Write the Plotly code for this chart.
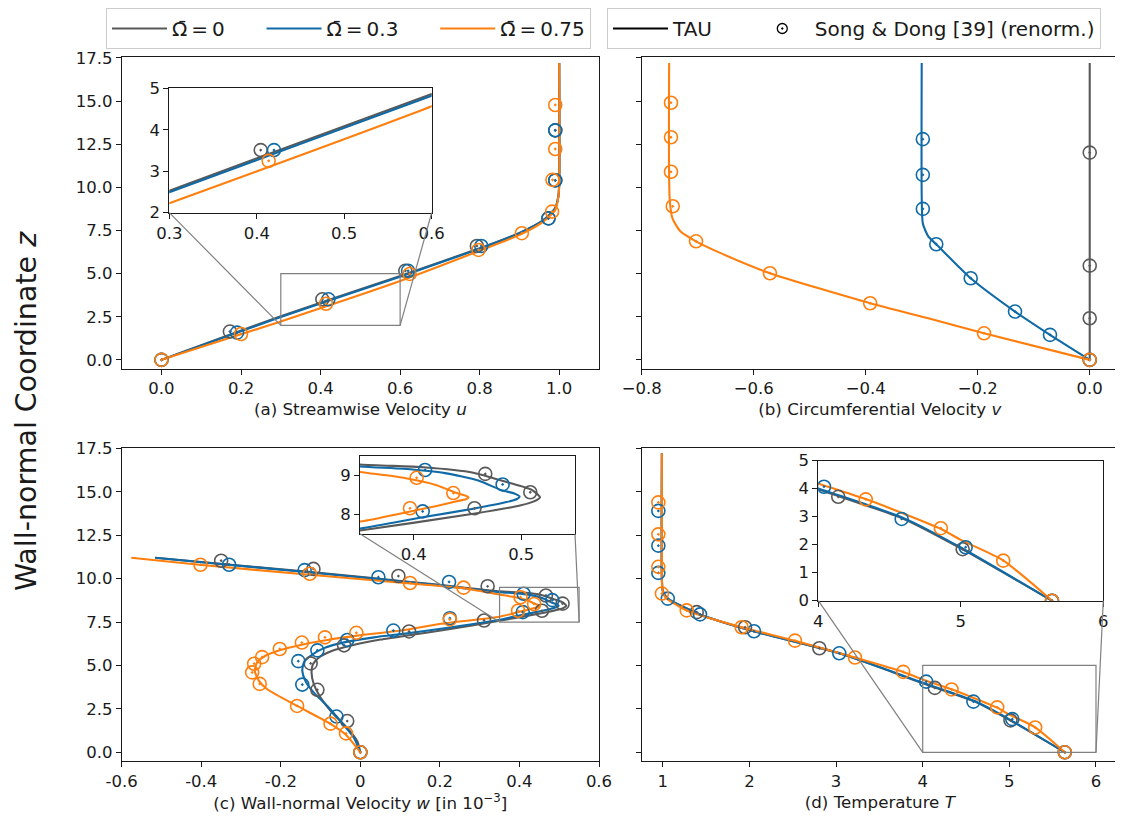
import plotly.graph_objects as go

# The page body has an 8px default margin; the figure is sized so it fills the 1123x825 window.
OFF = 8
W, H = 1123 - OFF, 825 - OFF
GRAY = "#595959"
BLUE = "#0f6aa6"
ORANGE = "#ff7f0e"
FONT = "DejaVu Sans"
NB = "\u00a0"
TS = "\u2009"

SERIES = ["Ω̄" + TS + "=" + TS + "0", "Ω̄" + TS + "=" + TS + "0.3", "Ω̄" + TS + "=" + TS + "0.75"]
COLORS = [GRAY, BLUE, ORANGE]

# ---------------- (a) streamwise velocity u ----------------
a_line_gray_u = [0, 0.3, 0.6, 0.8, 0.9, 0.96, 0.99, 0.998, 1.0, 1.0]
a_line_gray_z = [0, 2.53, 4.86, 6.47, 7.36, 8.1, 8.8, 9.5, 10.2, 17.2]
a_line_blue_u = [0, 0.3, 0.6, 0.8, 0.9, 0.96, 0.99, 0.998, 1.0, 1.0]
a_line_blue_z = [0, 2.49, 4.82, 6.44, 7.34, 8.08, 8.78, 9.5, 10.2, 17.2]
a_line_orange_u = [0, 0.3, 0.6, 0.797, 0.906, 0.96, 0.99, 0.998, 1.0, 1.0]
a_line_orange_z = [0, 2.23, 4.57, 6.3, 7.3, 8.01, 8.69, 9.46, 10.2, 17.2]

a_mark_gray_u = [0, 0.172, 0.4045, 0.613, 0.793, 0.973, 0.99, 0.99]
a_mark_gray_z = [0, 1.64, 3.51, 5.16, 6.6, 8.2, 10.4, 13.3]
a_mark_blue_u = [0, 0.19, 0.4197, 0.62, 0.804, 0.973, 0.99, 0.99]
a_mark_blue_z = [0, 1.58, 3.51, 5.16, 6.6, 8.2, 10.4, 13.3]
a_mark_orange_u = [0, 0.2, 0.4136, 0.624, 0.797, 0.906, 0.982, 0.983, 0.99, 0.99]
a_mark_orange_z = [0, 1.5, 3.25, 4.98, 6.37, 7.34, 8.59, 10.43, 12.22, 14.77]

# ---------------- (b) circumferential velocity v ----------------
b_line_gray_v = [0, 0]
b_line_gray_z = [0, 17.2]
b_line_blue_v = [0, -0.0709, -0.1334, -0.2125, -0.274, -0.288, -0.298, -0.3, -0.3]
b_line_blue_z = [0, 1.45, 2.8, 4.73, 6.7, 7.14, 7.9, 9.5, 17.2]
b_line_orange_v = [0, -0.1887, -0.285, -0.392, -0.571, -0.66, -0.703, -0.731, -0.745, -0.75, -0.751]
b_line_orange_z = [0, 1.54, 2.38, 3.28, 5.02, 6.2, 6.87, 7.45, 8.2, 9.3, 17.2]

b_mark_gray_v = [0, 0, 0, 0]
b_mark_gray_z = [0, 2.41, 5.46, 12.01]
b_mark_blue_v = [0, -0.0709, -0.1334, -0.2125, -0.274, -0.298, -0.298, -0.298]
b_mark_blue_z = [0, 1.45, 2.8, 4.73, 6.7, 8.75, 10.72, 12.79]
b_mark_orange_v = [0, -0.1887, -0.392, -0.571, -0.703, -0.7446, -0.7477, -0.7477, -0.7477]
b_mark_orange_z = [0, 1.54, 3.28, 5.02, 6.87, 8.9, 10.9, 12.9, 14.9]

# ---------------- (c) wall-normal velocity w ----------------
c_line_gray_w = [0, -0.0076, -0.033, -0.0705, -0.1, -0.117, -0.1227, -0.119, -0.104, -0.0705,
                 -0.0244, 0.051, 0.135, 0.2023, 0.35, 0.4555, 0.4988, 0.5112, 0.5174, 0.5098,
                 0.4864, 0.4555, 0.409, 0.35, 0.186, 0.018, -0.15, -0.318, -0.516]
c_line_gray_z = [0, 0.64, 1.41, 2.28, 3.15, 3.92, 4.6, 5.08, 5.46, 5.85,
                 6.14, 6.49, 6.78, 7.01, 7.58, 8.01, 8.22, 8.32, 8.43, 8.62,
                 8.82, 9.06, 9.2, 9.27, 9.67, 10.06, 10.43, 10.78, 11.2]
c_line_blue_w = [0, -0.016, -0.05, -0.083, -0.117, -0.138, -0.146, -0.142, -0.125, -0.0917,
                 -0.041, 0.0343, 0.118, 0.2023, 0.35, 0.4083, 0.4555, 0.4865, 0.4955, 0.4985, 0.4935,
                 0.4818, 0.46, 0.429, 0.3903, 0.35, 0.186, 0.018, -0.15, -0.318, -0.516]
c_line_blue_z = [0, 0.83, 1.8, 2.67, 3.44, 4.11, 4.69, 5.17, 5.56, 6.0,
                 6.33, 6.62, 6.85, 7.11, 7.63, 7.92, 8.14, 8.31, 8.38, 8.45, 8.53,
                 8.61, 8.86, 9.05, 9.16, 9.22, 9.64, 10.04, 10.41, 10.77, 11.2]
c_line_orange_w = [0, -0.037, -0.075, -0.159, -0.234, -0.255, -0.2655, -0.2596, -0.2386, -0.2008,
                   -0.1504, -0.0831, -0.0076, 0.1015, 0.2023, 0.35, 0.3903, 0.4213, 0.44, 0.4485, 0.451,
                   0.4475, 0.44, 0.4213, 0.3903, 0.35, 0.26, 0.125, -0.127, -0.405, -0.576]
c_line_orange_z = [0, 1.02, 1.64, 2.67, 3.63, 4.11, 4.69, 5.17, 5.56, 5.89,
                   6.18, 6.47, 6.72, 7.01, 7.4, 7.81, 8.03, 8.21, 8.33, 8.38, 8.43,
                   8.48, 8.54, 8.74, 8.93, 9.08, 9.45, 9.72, 10.22, 10.8, 11.2]

c_mark_gray_w = [0, -0.033, -0.108, -0.125, -0.041, 0.1225, 0.311, 0.4565, 0.5084, 0.4665,
                 0.32, 0.0957, -0.118, -0.35]
c_mark_gray_z = [0, 1.8, 3.6, 5.12, 6.16, 6.96, 7.59, 8.15, 8.56, 9.03,
                 9.56, 10.15, 10.56, 11.03]
c_mark_blue_w = [0, -0.06, -0.146, -0.156, -0.108, -0.033, 0.083, 0.225, 0.4083, 0.4827,
                 0.4105, 0.223, 0.0453, -0.14, -0.33]
c_mark_blue_z = [0, 2.06, 3.9, 5.25, 5.87, 6.47, 7.01, 7.72, 8.07, 8.76,
                 9.13, 9.81, 10.08, 10.49, 10.8]
c_mark_orange_w = [0, -0.036, -0.075, -0.159, -0.253, -0.272, -0.267, -0.247, -0.2025, -0.147,
                   -0.089, -0.01, 0.225, 0.3965, 0.4368, 0.4027, 0.2595, 0.125, -0.127, -0.402]
c_mark_orange_z = [0, 1.09, 1.65, 2.67, 3.94, 4.6, 5.1, 5.48, 5.95, 6.32,
                   6.62, 6.88, 7.65, 8.15, 8.54, 8.93, 9.48, 9.75, 10.28, 10.8]

# ---------------- (d) temperature T ----------------
d_line_gray_T = [0.99, 0.99, 1.0, 1.058, 1.43, 2.05, 3.04, 4.0, 4.6, 5.0, 5.64]
d_line_gray_z = [17.2, 10.0, 9.3, 8.85, 7.94, 6.97, 5.7, 3.98, 2.92, 1.87, 0]
d_line_blue_T = [0.99, 0.99, 1.0, 1.058, 1.43, 2.05, 3.04, 4.0, 4.6, 5.0, 5.64]
d_line_blue_z = [17.2, 10.0, 9.3, 8.85, 7.94, 6.97, 5.7, 4.01, 2.95, 1.9, 0]
d_line_orange_T = [0.99, 0.99, 0.995, 1.027, 1.277, 1.91, 2.526, 3.218, 3.775, 4.0, 4.333, 4.859, 5.0, 5.294, 5.64]
d_line_orange_z = [17.2, 10.0, 9.4, 8.94, 8.17, 7.2, 6.43, 5.46, 4.63, 4.19, 3.63, 2.57, 2.17, 1.45, 0]

d_mark_gray_T = [1.392, 1.95, 2.807, 4.14, 5.013, 5.64]
d_mark_gray_z = [8.07, 7.2, 5.99, 3.71, 1.84, 0]
d_mark_blue_T = [0.949, 0.949, 0.949, 1.058, 1.43, 2.053, 3.037, 4.04, 4.585, 5.034, 5.64]
d_mark_blue_z = [13.9, 11.9, 10.33, 8.85, 7.94, 6.97, 5.7, 4.07, 2.92, 1.91, 0]
d_mark_orange_T = [0.949, 0.949, 0.949, 0.99, 1.277, 1.91, 2.526, 3.218, 3.775, 4.333, 4.86, 5.298, 5.64]
d_mark_orange_z = [14.39, 12.55, 10.68, 9.14, 8.17, 7.2, 6.43, 5.46, 4.63, 3.62, 2.59, 1.43, 0]

# ---------------- tick labels ----------------
y_tickvals = [0, 2.5, 5, 7.5, 10, 12.5, 15, 17.5]
a_tickvals = [0, 0.2, 0.4, 0.6, 0.8, 1.0]
b_tickvals = [-0.8, -0.6, -0.4, -0.2, 0.0]
b_ticktext = ["−0.8", "−0.6", "−0.4", "−0.2", "0.0"]
c_tickvals = [-0.6, -0.4, -0.2, 0, 0.2, 0.4, 0.6]
c_ticktext = ["-0.6", "-0.4", "-0.2", "0", "0.2", "0.4", "0.6"]
d_tickvals = [1, 2, 3, 4, 5, 6]

# ---------------- layout geometry (window pixels) ----------------
def xd(a, b):
    return [(a - OFF) / W, (b - OFF) / W]

def yd(top, bottom):
    return [1 - (bottom - OFF) / H, 1 - (top - OFF) / H]

X_LEFT = xd(121.7, 599)
X_RIGHT = xd(641.7, 1118)
Y_TOP = yd(57, 368.5)
Y_BOT = yd(447.5, 761)
YR = [-0.5, 17.55]
RANGES = {
    "a": [-0.1, 1.1], "b": [-0.8, 0.0505], "c": [-0.6, 0.6], "d": [0.757, 6.254],
}
INSETS = {
    "a": (xd(169.3, 431.7), yd(88.3, 212.7), [0.3, 0.6], [2, 5], (X_LEFT, Y_TOP, RANGES["a"])),
    "c": (xd(360, 575), yd(455.5, 533.7), [0.35, 0.55], [7.5, 9.5], (X_LEFT, Y_BOT, RANGES["c"])),
    "d": (xd(818.3, 1103.3), yd(460.7, 600.7), [4, 6], [0, 5], (X_RIGHT, Y_BOT, RANGES["d"])),
}

fig = go.Figure()

def add_lines(xs_list, zs_list, xa, ya):
    for xs, zs, col in zip(xs_list, zs_list, COLORS):
        fig.add_trace(go.Scatter(x=xs, y=zs, mode="lines", xaxis=xa, yaxis=ya,
                                 line=dict(color=col, width=2.1, shape="spline", smoothing=0.6),
                                 showlegend=False, hoverinfo="skip"))

def add_marks(xs_list, zs_list, xa, ya):
    for xs, zs, col in zip(xs_list, zs_list, COLORS):
        fig.add_trace(go.Scatter(x=xs, y=zs, mode="markers", xaxis=xa, yaxis=ya,
                                 marker=dict(symbol="circle-open-dot", size=13, color=col,
                                             line=dict(width=1.6, color=col)),
                                 showlegend=False, hoverinfo="skip"))

panels = {
    "a": ([a_line_gray_u, a_line_blue_u, a_line_orange_u], [a_line_gray_z, a_line_blue_z, a_line_orange_z],
          [a_mark_gray_u, a_mark_blue_u, a_mark_orange_u], [a_mark_gray_z, a_mark_blue_z, a_mark_orange_z]),
    "b": ([b_line_gray_v, b_line_blue_v, b_line_orange_v], [b_line_gray_z, b_line_blue_z, b_line_orange_z],
          [b_mark_gray_v, b_mark_blue_v, b_mark_orange_v], [b_mark_gray_z, b_mark_blue_z, b_mark_orange_z]),
    "c": ([c_line_gray_w, c_line_blue_w, c_line_orange_w], [c_line_gray_z, c_line_blue_z, c_line_orange_z],
          [c_mark_gray_w, c_mark_blue_w, c_mark_orange_w], [c_mark_gray_z, c_mark_blue_z, c_mark_orange_z]),
    "d": ([d_line_gray_T, d_line_blue_T, d_line_orange_T], [d_line_gray_z, d_line_blue_z, d_line_orange_z],
          [d_mark_gray_T, d_mark_blue_T, d_mark_orange_T], [d_mark_gray_z, d_mark_blue_z, d_mark_orange_z]),
}
main_axes = {"a": ("x", "y"), "b": ("x2", "y2"), "c": ("x3", "y3"), "d": ("x4", "y4")}
inset_axes = {"a": ("x5", "y5"), "c": ("x6", "y6"), "d": ("x7", "y7")}

for key, (lx, lz, mx, mz) in panels.items():
    xa, ya = main_axes[key]
    add_lines(lx, lz, xa, ya)
    add_marks(mx, mz, xa, ya)
    if key in inset_axes:
        ixa, iya = inset_axes[key]
        add_lines(lx, lz, ixa, iya)
        add_marks(mx, mz, ixa, iya)

# legend entries
PAD = NB * 5
for i, (name, col) in enumerate(zip(SERIES, COLORS)):
    fig.add_trace(go.Scatter(x=[None], y=[None], mode="lines",
                             name=name + (PAD if i < len(SERIES) - 1 else ""),
                             line=dict(color=col, width=2), legend="legend"))
fig.add_trace(go.Scatter(x=[None], y=[None], mode="lines", name="TAU" + NB * 5,
                         line=dict(color="black", width=2), legend="legend2"))
fig.add_trace(go.Scatter(x=[None], y=[None], mode="markers", name="Song &amp; Dong [39] (renorm.)",
                         marker=dict(symbol="circle-open-dot", size=10, color="black",
                                     line=dict(width=1.3, color="black")), legend="legend2"))

AX = dict(showline=True, linecolor="#1a1a1a", linewidth=1, mirror=True, ticks="outside",
          ticklen=5, tickwidth=1, tickcolor="#1a1a1a", showgrid=False, zeroline=False,
          automargin=False, tickfont=dict(size=16.5, color="#1a1a1a", family=FONT))
TITLE_FONT = dict(size=16.7, color="#1a1a1a", family=FONT)
LEG = dict(xref="container", yref="container", xanchor="left", yanchor="top", orientation="h",
           bgcolor="white", bordercolor="#cccccc", borderwidth=1, itemwidth=55,
           font=dict(size=20, family=FONT, color="#1a1a1a"))

layout = dict(
    width=W, height=H, margin=dict(l=0, r=0, t=0, b=0, autoexpand=False),
    paper_bgcolor="white", plot_bgcolor="white",
    font=dict(family=FONT, color="#1a1a1a"),
    xaxis=dict(AX, domain=X_LEFT, range=RANGES["a"], tickvals=a_tickvals, tickformat=".1f",
               title=dict(text="(a) Streamwise Velocity <i>u</i>", font=TITLE_FONT, standoff=6), anchor="y"),
    yaxis=dict(AX, domain=Y_TOP, range=YR, tickvals=y_tickvals, tickformat=".1f", anchor="x"),
    xaxis2=dict(AX, domain=X_RIGHT, range=RANGES["b"], tickvals=b_tickvals, ticktext=b_ticktext,
                title=dict(text="(b) Circumferential Velocity <i>v</i>", font=TITLE_FONT, standoff=6), anchor="y2"),
    yaxis2=dict(AX, domain=Y_TOP, range=YR, tickvals=y_tickvals, showticklabels=False, anchor="x2"),
    xaxis3=dict(AX, domain=X_LEFT, range=RANGES["c"], tickvals=c_tickvals, ticktext=c_ticktext,
                title=dict(text="(c) Wall-normal Velocity <i>w</i> [in 10<sup>−3</sup>]", font=TITLE_FONT, standoff=6),
                anchor="y3"),
    yaxis3=dict(AX, domain=Y_BOT, range=YR, tickvals=y_tickvals, tickformat=".1f", anchor="x3"),
    xaxis4=dict(AX, domain=X_RIGHT, range=RANGES["d"], tickvals=d_tickvals,
                title=dict(text="(d) Temperature <i>T</i>", font=TITLE_FONT, standoff=6), anchor="y4"),
    yaxis4=dict(AX, domain=Y_BOT, range=YR, tickvals=y_tickvals, showticklabels=False, anchor="x4"),
    xaxis5=dict(AX, domain=INSETS["a"][0], range=INSETS["a"][2], tickvals=[0.3, 0.4, 0.5, 0.6], anchor="y5"),
    yaxis5=dict(AX, domain=INSETS["a"][1], range=INSETS["a"][3], tickvals=[2, 3, 4, 5], anchor="x5"),
    xaxis6=dict(AX, domain=INSETS["c"][0], range=INSETS["c"][2], tickvals=[0.4, 0.5], anchor="y6"),
    yaxis6=dict(AX, domain=INSETS["c"][1], range=INSETS["c"][3], tickvals=[8, 9], anchor="x6"),
    xaxis7=dict(AX, domain=INSETS["d"][0], range=INSETS["d"][2], tickvals=[4, 5, 6], anchor="y7"),
    yaxis7=dict(AX, domain=INSETS["d"][1], range=INSETS["d"][3], tickvals=[0, 1, 2, 3, 4, 5], anchor="x7"),
    legend=dict(LEG, x=(106 - OFF) / W, y=1),
    legend2=dict(LEG, x=(607 - OFF) / W, y=1),
    annotations=[dict(text="Wall-normal Coordinate <i>z</i>", textangle=-90, x=(26 - OFF) / W,
                      y=1 - (411 - OFF) / H,
                      xref="paper", yref="paper", showarrow=False, xanchor="center", yanchor="middle",
                      font=dict(size=28.5, family=FONT, color="#1a1a1a"))],
)
fig.update_layout(**layout)

# inset indicator rectangles and connector lines
main_refs = {"a": ("x", "y"), "c": ("x3", "y3"), "d": ("x4", "y4")}
shapes = []
for key, (ixd, iyd, ixr, iyr, (mxd, myd, mxr)) in INSETS.items():
    xr_, yr_ = main_refs[key]
    shapes.append(dict(type="rect", xref=xr_, yref=yr_, x0=ixr[0], x1=ixr[1], y0=iyr[0], y1=iyr[1],
                       line=dict(color="#808080", width=1.2), layer="above"))

    def to_paper(xv, yv, mxd=mxd, myd=myd, mxr=mxr):
        px = mxd[0] + (xv - mxr[0]) / (mxr[1] - mxr[0]) * (mxd[1] - mxd[0])
        py = myd[0] + (yv - YR[0]) / (YR[1] - YR[0]) * (myd[1] - myd[0])
        return px, py

    for corner_x, inset_px in ((ixr[0], ixd[0]), (ixr[1], ixd[1])):
        px, py = to_paper(corner_x, iyr[0])
        shapes.append(dict(type="line", xref="paper", yref="paper", x0=inset_px, y0=iyd[0], x1=px, y1=py,
                           line=dict(color="#808080", width=1.2), layer="above"))
fig.update_layout(shapes=shapes)

fig.write_html("out.html")
